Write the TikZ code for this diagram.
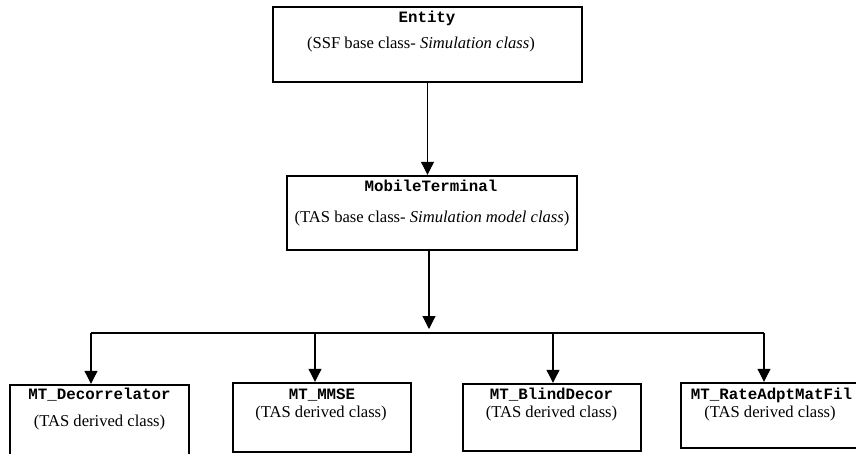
\documentclass[tikz,border=0pt]{standalone}
\usepackage{fontspec}
\setmainfont{Liberation Serif}
\setmonofont{Liberation Mono}
\usetikzlibrary{arrows.meta}

\tikzset{
  classbox/.style={draw=black, line width=2.4pt, fill=white, inner sep=0pt},
  clsname/.style={anchor=base, inner sep=0pt, font=\fontsize{15.8}{18}\selectfont\ttfamily\bfseries},
  clsdesc/.style={anchor=base, inner sep=0pt, font=\fontsize{16.6}{19}\selectfont},
  link/.style={line width=1.1pt, black},
  arr/.style={link, -{Triangle[length=13pt,width=13pt]}}
}

\begin{document}
\begin{tikzpicture}[x=1pt, y=-1pt]
  \useasboundingbox (0,0) rectangle (856,454);
  \clip (0,0) rectangle (856,454);

  % class boxes
  \node[classbox, minimum width=309pt, minimum height=75pt] (entity) at (427.5,44.5) {};
  \node[classbox, minimum width=290pt, minimum height=74pt] (mobile) at (432,213) {};
  \node[classbox, minimum width=179pt, minimum height=80pt] (decor) at (99.5,425) {};
  \node[classbox, minimum width=178pt, minimum height=69pt] (mmse) at (322,417.5) {};
  \node[classbox, minimum width=178pt, minimum height=67pt] (blind) at (552,417.5) {};
  \node[classbox, minimum width=180pt, minimum height=65pt] (rate) at (771,415.5) {};

  % class names and descriptions
  \node[clsname] (entityname) at (427,23) {Entity};
  \node[clsdesc] (entitydesc) at (421,49) {(SSF base class- \textit{Simulation class})};
  \node[clsname] (mobilename) at (431,192) {MobileTerminal};
  \node[clsdesc] (mobiledesc) at (432,223) {(TAS base class- \textit{Simulation model class})};
  \node[clsname] (decorname) at (99.5,399) {MT\_Decorrelator};
  \node[clsdesc] (decordesc) at (99.5,426) {(TAS derived class)};
  \node[clsname] (mmsename) at (322,399) {MT\_MMSE};
  \node[clsdesc] (mmsedesc) at (321,417) {(TAS derived class)};
  \node[clsname] (blindname) at (551.5,399) {MT\_BlindDecor};
  \node[clsdesc] (blinddesc) at (551.5,417) {(TAS derived class)};
  \node[clsname] (ratename) at (771.5,399) {MT\_RateAdptMatFil};
  \node[clsdesc] (ratedesc) at (770,417) {(TAS derived class)};

  % inheritance connectors
  \coordinate (fork) at (429,333);
  \coordinate (forktip) at (429,329);
  \coordinate (b1) at (91,333);
  \coordinate (b2) at (315,333);
  \coordinate (b3) at (553,333);
  \coordinate (b4) at (764,333);

  \draw[arr] (entity.south) -- (entity.south |- mobile.north);
  \draw[arr] (mobile.south -| fork) -- (forktip);
  \draw[link] (b1) -- (b4);
  \draw[arr] (b1) -- (b1 |- decor.north);
  \draw[arr] (b2) -- (b2 |- mmse.north);
  \draw[arr] (b3) -- (b3 |- blind.north);
  \draw[arr] (b4) -- (b4 |- rate.north);
\end{tikzpicture}
\end{document}
